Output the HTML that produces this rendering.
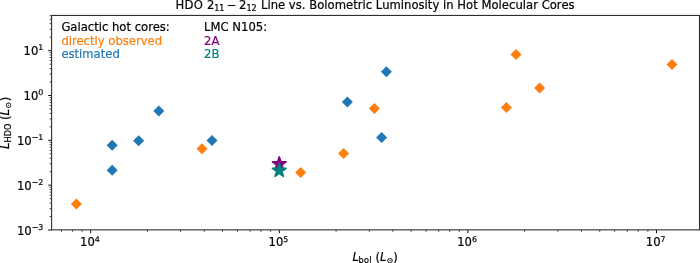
<!DOCTYPE html>
<html><head><meta charset="utf-8"><title>HDO plot</title>
<style>
html,body{margin:0;padding:0;background:#fff;}
body{width:700px;height:263px;overflow:hidden;}
svg{display:block;}
text{font-family:"DejaVu Sans","Liberation Sans",sans-serif;font-size:11.6px;fill:#000;stroke:#000;stroke-width:0.2px;}
.sup{font-size:8.12px;}
.it{font-style:italic;}
</style></head><body>
<svg width="700" height="263" viewBox="0 0 700 263">
<rect x="0" y="0" width="700" height="263" fill="#fff"/>
<g stroke="#000" stroke-width="0.95" fill="none">
<line x1="90.70" y1="229.85" x2="90.70" y2="233.25"/>
<line x1="279.30" y1="229.85" x2="279.30" y2="233.25"/>
<line x1="467.90" y1="229.85" x2="467.90" y2="233.25"/>
<line x1="656.50" y1="229.85" x2="656.50" y2="233.25"/>
<line x1="51.6" y1="230.05" x2="48.20" y2="230.05"/>
<line x1="51.6" y1="185.20" x2="48.20" y2="185.20"/>
<line x1="51.6" y1="140.35" x2="48.20" y2="140.35"/>
<line x1="51.6" y1="95.50" x2="48.20" y2="95.50"/>
<line x1="51.6" y1="50.65" x2="48.20" y2="50.65"/>
</g>
<g stroke="#000" stroke-width="0.75" fill="none">
<line x1="61.49" y1="229.85" x2="61.49" y2="231.80"/>
<line x1="72.42" y1="229.85" x2="72.42" y2="231.80"/>
<line x1="82.07" y1="229.85" x2="82.07" y2="231.80"/>
<line x1="147.47" y1="229.85" x2="147.47" y2="231.80"/>
<line x1="180.69" y1="229.85" x2="180.69" y2="231.80"/>
<line x1="204.25" y1="229.85" x2="204.25" y2="231.80"/>
<line x1="222.53" y1="229.85" x2="222.53" y2="231.80"/>
<line x1="237.46" y1="229.85" x2="237.46" y2="231.80"/>
<line x1="250.09" y1="229.85" x2="250.09" y2="231.80"/>
<line x1="261.02" y1="229.85" x2="261.02" y2="231.80"/>
<line x1="270.67" y1="229.85" x2="270.67" y2="231.80"/>
<line x1="336.07" y1="229.85" x2="336.07" y2="231.80"/>
<line x1="369.29" y1="229.85" x2="369.29" y2="231.80"/>
<line x1="392.85" y1="229.85" x2="392.85" y2="231.80"/>
<line x1="411.13" y1="229.85" x2="411.13" y2="231.80"/>
<line x1="426.06" y1="229.85" x2="426.06" y2="231.80"/>
<line x1="438.69" y1="229.85" x2="438.69" y2="231.80"/>
<line x1="449.62" y1="229.85" x2="449.62" y2="231.80"/>
<line x1="459.27" y1="229.85" x2="459.27" y2="231.80"/>
<line x1="524.67" y1="229.85" x2="524.67" y2="231.80"/>
<line x1="557.89" y1="229.85" x2="557.89" y2="231.80"/>
<line x1="581.45" y1="229.85" x2="581.45" y2="231.80"/>
<line x1="599.73" y1="229.85" x2="599.73" y2="231.80"/>
<line x1="614.66" y1="229.85" x2="614.66" y2="231.80"/>
<line x1="627.29" y1="229.85" x2="627.29" y2="231.80"/>
<line x1="638.22" y1="229.85" x2="638.22" y2="231.80"/>
<line x1="647.87" y1="229.85" x2="647.87" y2="231.80"/>
<line x1="51.6" y1="216.55" x2="49.65" y2="216.55"/>
<line x1="51.6" y1="208.65" x2="49.65" y2="208.65"/>
<line x1="51.6" y1="203.05" x2="49.65" y2="203.05"/>
<line x1="51.6" y1="198.70" x2="49.65" y2="198.70"/>
<line x1="51.6" y1="195.15" x2="49.65" y2="195.15"/>
<line x1="51.6" y1="192.15" x2="49.65" y2="192.15"/>
<line x1="51.6" y1="189.55" x2="49.65" y2="189.55"/>
<line x1="51.6" y1="187.25" x2="49.65" y2="187.25"/>
<line x1="51.6" y1="171.70" x2="49.65" y2="171.70"/>
<line x1="51.6" y1="163.80" x2="49.65" y2="163.80"/>
<line x1="51.6" y1="158.20" x2="49.65" y2="158.20"/>
<line x1="51.6" y1="153.85" x2="49.65" y2="153.85"/>
<line x1="51.6" y1="150.30" x2="49.65" y2="150.30"/>
<line x1="51.6" y1="147.30" x2="49.65" y2="147.30"/>
<line x1="51.6" y1="144.70" x2="49.65" y2="144.70"/>
<line x1="51.6" y1="142.40" x2="49.65" y2="142.40"/>
<line x1="51.6" y1="126.85" x2="49.65" y2="126.85"/>
<line x1="51.6" y1="118.95" x2="49.65" y2="118.95"/>
<line x1="51.6" y1="113.35" x2="49.65" y2="113.35"/>
<line x1="51.6" y1="109.00" x2="49.65" y2="109.00"/>
<line x1="51.6" y1="105.45" x2="49.65" y2="105.45"/>
<line x1="51.6" y1="102.45" x2="49.65" y2="102.45"/>
<line x1="51.6" y1="99.85" x2="49.65" y2="99.85"/>
<line x1="51.6" y1="97.55" x2="49.65" y2="97.55"/>
<line x1="51.6" y1="82.00" x2="49.65" y2="82.00"/>
<line x1="51.6" y1="74.10" x2="49.65" y2="74.10"/>
<line x1="51.6" y1="68.50" x2="49.65" y2="68.50"/>
<line x1="51.6" y1="64.15" x2="49.65" y2="64.15"/>
<line x1="51.6" y1="60.60" x2="49.65" y2="60.60"/>
<line x1="51.6" y1="57.60" x2="49.65" y2="57.60"/>
<line x1="51.6" y1="55.00" x2="49.65" y2="55.00"/>
<line x1="51.6" y1="52.70" x2="49.65" y2="52.70"/>
<line x1="51.6" y1="37.15" x2="49.65" y2="37.15"/>
<line x1="51.6" y1="29.25" x2="49.65" y2="29.25"/>
<line x1="51.6" y1="23.65" x2="49.65" y2="23.65"/>
<line x1="51.6" y1="19.30" x2="49.65" y2="19.30"/>
<line x1="51.6" y1="15.75" x2="49.65" y2="15.75"/>
</g>
<path d="M76.40 198.50L81.90 204.00L76.40 209.50L70.90 204.00Z" fill="#ff7f0e"/>
<path d="M202.00 143.30L207.50 148.80L202.00 154.30L196.50 148.80Z" fill="#ff7f0e"/>
<path d="M300.60 167.10L306.10 172.60L300.60 178.10L295.10 172.60Z" fill="#ff7f0e"/>
<path d="M343.60 148.10L349.10 153.60L343.60 159.10L338.10 153.60Z" fill="#ff7f0e"/>
<path d="M374.40 102.90L379.90 108.40L374.40 113.90L368.90 108.40Z" fill="#ff7f0e"/>
<path d="M506.40 102.10L511.90 107.60L506.40 113.10L500.90 107.60Z" fill="#ff7f0e"/>
<path d="M516.00 48.90L521.50 54.40L516.00 59.90L510.50 54.40Z" fill="#ff7f0e"/>
<path d="M539.60 82.50L545.10 88.00L539.60 93.50L534.10 88.00Z" fill="#ff7f0e"/>
<path d="M672.00 58.90L677.50 64.40L672.00 69.90L666.50 64.40Z" fill="#ff7f0e"/>
<path d="M112.20 164.70L117.70 170.20L112.20 175.70L106.70 170.20Z" fill="#1f77b4"/>
<path d="M112.20 139.70L117.70 145.20L112.20 150.70L106.70 145.20Z" fill="#1f77b4"/>
<path d="M138.60 135.30L144.10 140.80L138.60 146.30L133.10 140.80Z" fill="#1f77b4"/>
<path d="M158.80 105.50L164.30 111.00L158.80 116.50L153.30 111.00Z" fill="#1f77b4"/>
<path d="M212.00 135.10L217.50 140.60L212.00 146.10L206.50 140.60Z" fill="#1f77b4"/>
<path d="M347.40 96.50L352.90 102.00L347.40 107.50L341.90 102.00Z" fill="#1f77b4"/>
<path d="M381.60 131.90L387.10 137.40L381.60 142.90L376.10 137.40Z" fill="#1f77b4"/>
<path d="M386.40 66.30L391.90 71.80L386.40 77.30L380.90 71.80Z" fill="#1f77b4"/>
<path d="M279.25 156.40L277.54 161.65L272.02 161.65L276.49 164.90L274.78 170.15L279.25 166.90L283.72 170.15L282.01 164.90L286.48 161.65L280.96 161.65Z" fill="#800080" stroke="#800080" stroke-width="1.4" stroke-linejoin="bevel"/>
<path d="M279.25 162.90L277.54 168.15L272.02 168.15L276.49 171.40L274.78 176.65L279.25 173.40L283.72 176.65L282.01 171.40L286.48 168.15L280.96 168.15Z" fill="#008080" stroke="#008080" stroke-width="1.4" stroke-linejoin="bevel"/>
<rect x="51.6" y="15.45" width="647.9" height="214.4" fill="none" stroke="#2e2e2e" stroke-width="1.1"/>
<text x="89.90" y="246.00" text-anchor="middle">10<tspan class="sup" style="font-size:7.9px" dy="-4">4</tspan></text>
<text x="278.50" y="246.00" text-anchor="middle">10<tspan class="sup" style="font-size:7.9px" dy="-4">5</tspan></text>
<text x="467.10" y="246.00" text-anchor="middle">10<tspan class="sup" style="font-size:7.9px" dy="-4">6</tspan></text>
<text x="655.70" y="246.00" text-anchor="middle">10<tspan class="sup" style="font-size:7.9px" dy="-4">7</tspan></text>
<text x="43.40" y="235.00" text-anchor="end">10<tspan class="sup" style="font-size:7.9px" dy="-5">−3</tspan></text>
<text x="43.40" y="190.00" text-anchor="end">10<tspan class="sup" style="font-size:7.9px" dy="-5">−2</tspan></text>
<text x="43.40" y="145.00" text-anchor="end">10<tspan class="sup" style="font-size:7.9px" dy="-5">−1</tspan></text>
<text x="43.40" y="100.00" text-anchor="end">10<tspan class="sup" style="font-size:7.9px" dy="-5">0</tspan></text>
<text x="43.40" y="55.00" text-anchor="end">10<tspan class="sup" style="font-size:7.9px" dy="-5">1</tspan></text>
<text xml:space="preserve"><tspan x="175.6" y="9" style="letter-spacing:0.2px">HDO </tspan><tspan x="206.9" y="9">2</tspan><tspan class="sup" x="214.2" y="11">11</tspan><tspan x="226.7" y="9">− </tspan><tspan x="238.9" y="9">2</tspan><tspan class="sup" x="246.4" y="11">12</tspan><tspan x="260.9" y="9" textLength="313.7" lengthAdjust="spacing">Line vs. Bolometric Luminosity in Hot Molecular Cores</tspan></text>
<text x="61.4" y="31">Galactic hot cores:</text>
<text x="61.4" y="45" style="fill:#ff7f0e;stroke:#ff7f0e">directly observed</text>
<text x="61.4" y="58" style="fill:#1f77b4;stroke:#1f77b4">estimated</text>
<text x="204.1" y="31">LMC N105:</text>
<text x="204.1" y="45" style="fill:#800080;stroke:#800080">2A</text>
<text x="204.1" y="58" style="fill:#008080;stroke:#008080">2B</text>
<text x="352.6" y="261" xml:space="preserve"><tspan class="it">L</tspan><tspan class="sup" dy="2" dx="-0.6" style="letter-spacing:0.3px">bol</tspan><tspan dy="-2" dx="0"> (</tspan><tspan class="it">L</tspan><tspan class="sup" dy="2">⊙</tspan><tspan dy="-2">)</tspan></text>
<text transform="translate(9 148.9) rotate(-90)" x="0" y="0" xml:space="preserve"><tspan class="it">L</tspan><tspan class="sup" dy="2">HDO</tspan><tspan dy="-2"> (</tspan><tspan class="it">L</tspan><tspan class="sup" dy="2" dx="0.3">⊙</tspan><tspan dy="-2" dx="0.7">)</tspan></text>
</svg></body></html>
